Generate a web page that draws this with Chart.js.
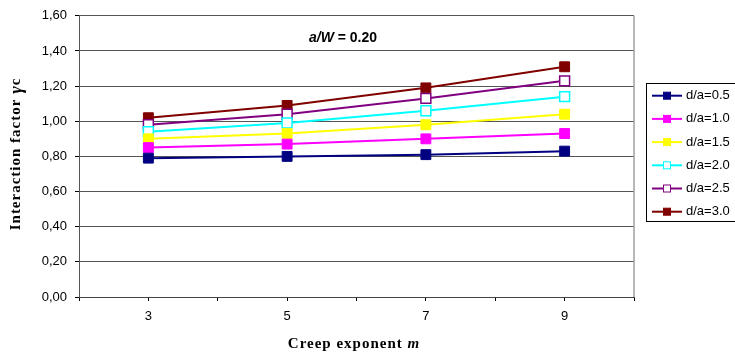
<!DOCTYPE html>
<html>
<head>
<meta charset="utf-8">
<script src="https://cdn.jsdelivr.net/npm/chart.js@4"></script>
<style>
  html, body { margin: 0; padding: 0; background: #fff; }
  #wrap { width: 735px; height: 358px; }
</style>
</head>
<body>
<div id="wrap"><canvas id="creepChart" width="735" height="358"></canvas></div>
<script>
// creep exponent m
const exponents = [3, 5, 7, 9];

// interaction factor per d/a ratio
const da05 = [0.79, 0.80, 0.81, 0.83];
const da10 = [0.85, 0.87, 0.90, 0.93];
const da15 = [0.90, 0.93, 0.98, 1.04];
const da20 = [0.94, 0.99, 1.06, 1.14];
const da25 = [0.98, 1.04, 1.13, 1.23];
const da30 = [1.02, 1.09, 1.19, 1.31];

const seriesLabels = ['d/a=0.5', 'd/a=1.0', 'd/a=1.5', 'd/a=2.0', 'd/a=2.5', 'd/a=3.0'];
const seriesValues = [da05, da10, da15, da20, da25, da30];
const seriesColors = ['#000080', '#ff00ff', '#ffff00', '#00ffff', '#800080', '#800000'];
const seriesHollow = [false, false, false, true, true, false];

const yTicks = [0, 0.2, 0.4, 0.6, 0.8, 1.0, 1.2, 1.4, 1.6];

const datasets = seriesValues.map((vals, i) => ({
    label: seriesLabels[i],
    data: vals.map((v, k) => ({ x: exponents[k], y: v })),
    borderColor: seriesColors[i],
    backgroundColor: seriesHollow[i] ? '#ffffff' : seriesColors[i],
    pointBorderColor: seriesColors[i],
    pointBackgroundColor: seriesHollow[i] ? '#ffffff' : seriesColors[i],
    pointBorderWidth: seriesHollow[i] ? 1.5 : 1,
    borderWidth: 2,
    pointStyle: 'rect',
    pointRadius: 7,
    pointHoverRadius: 7,
    tension: 0,
}));

// draws the axis titles, the a/W note, the right frame and the legend box
const decorations = {
    id: 'decorations',
    afterDraw(chart) {
        const ctx = chart.ctx;
        const area = chart.chartArea;
        ctx.save();

        // right edge of the plot frame
        ctx.strokeStyle = '#a0a0a0';
        ctx.lineWidth = 1.5;
        ctx.beginPath();
        ctx.moveTo(area.right, area.top);
        ctx.lineTo(area.right, area.bottom);
        ctx.stroke();

        ctx.fillStyle = '#000';
        ctx.textBaseline = 'middle';

        // a/W = 0.20
        const partA = 'a/W';
        const partB = ' = 0.20';
        ctx.font = 'italic bold 14px "Liberation Sans", Arial, sans-serif';
        const wA = ctx.measureText(partA).width;
        ctx.font = 'bold 14px "Liberation Sans", Arial, sans-serif';
        const wB = ctx.measureText(partB).width;
        let x0 = 343 - (wA + wB) / 2;
        ctx.textAlign = 'left';
        ctx.font = 'italic bold 14px "Liberation Sans", Arial, sans-serif';
        ctx.fillText(partA, x0, 38);
        ctx.font = 'bold 14px "Liberation Sans", Arial, sans-serif';
        ctx.fillText(partB, x0 + wA, 38);

        // x axis title
        ctx.letterSpacing = '1px';
        const xa = 'Creep exponent ';
        const xb = 'm';
        ctx.font = 'bold 15px "Liberation Serif", "Times New Roman", serif';
        const wxa = ctx.measureText(xa).width;
        ctx.font = 'italic bold 15px "Liberation Serif", "Times New Roman", serif';
        const wxb = ctx.measureText(xb).width;
        x0 = 354 - (wxa + wxb) / 2;
        ctx.font = 'bold 15px "Liberation Serif", "Times New Roman", serif';
        ctx.fillText(xa, x0, 344);
        ctx.font = 'italic bold 15px "Liberation Serif", "Times New Roman", serif';
        ctx.fillText(xb, x0 + wxa, 344);

        // y axis title, rotated
        const ya = 'Interaction factor ';
        const yb = 'γ';
        const yc = 'c';
        ctx.font = 'bold 15px "Liberation Serif", "Times New Roman", serif';
        const wya = ctx.measureText(ya).width;
        const wyc = ctx.measureText(yc).width;
        ctx.font = 'italic bold 18px "Liberation Serif", "Times New Roman", serif';
        const wyb = ctx.measureText(yb).width;
        ctx.translate(16, 154);
        ctx.rotate(-Math.PI / 2);
        x0 = -(wya + wyb + wyc) / 2;
        ctx.font = 'bold 15px "Liberation Serif", "Times New Roman", serif';
        ctx.fillText(ya, x0, 0);
        ctx.font = 'italic bold 18px "Liberation Serif", "Times New Roman", serif';
        ctx.fillText(yb, x0 + wya, 1);
        ctx.font = 'bold 15px "Liberation Serif", "Times New Roman", serif';
        ctx.fillText(yc, x0 + wya + wyb, 0);
        ctx.setTransform(1, 0, 0, 1, 0, 0);
        ctx.letterSpacing = '0px';

        // legend
        ctx.strokeStyle = '#000';
        ctx.lineWidth = 1;
        ctx.strokeRect(646.5, 83.5, 120, 138);
        ctx.font = '13px "Liberation Sans", Arial, sans-serif';
        chart.data.datasets.forEach((ds, i) => {
            const y = 95.7 + i * 23.2;
            ctx.strokeStyle = ds.borderColor;
            ctx.lineWidth = 2;
            ctx.beginPath();
            ctx.moveTo(652, y);
            ctx.lineTo(682, y);
            ctx.stroke();
            ctx.fillStyle = ds.pointBackgroundColor;
            ctx.fillRect(663.5, y - 3.5, 7, 7);
            ctx.strokeStyle = ds.pointBorderColor;
            ctx.lineWidth = 1;
            ctx.strokeRect(663.5, y - 3.5, 7, 7);
            ctx.fillStyle = '#000';
            ctx.textAlign = 'left';
            ctx.fillText(ds.label, 686, y);
        });

        ctx.restore();
    }
};

new Chart(document.getElementById('creepChart'), {
    type: 'line',
    data: { datasets },
    options: {
        responsive: false,
        animation: false,
        events: [],
        layout: { padding: { top: 11, right: 101, left: 0, bottom: 0 } },
        plugins: {
            legend: { display: false },
            tooltip: { enabled: false },
        },
        scales: {
            x: {
                type: 'linear',
                min: 2,
                max: 10,
                afterFit: (s) => { s.height = 61; },
                afterBuildTicks: (s) => {
                    s.ticks = [2, 3, 4, 5, 6, 7, 8, 9, 10].map((v) => ({ value: v }));
                },
                ticks: {
                    autoSkip: false,
                    maxRotation: 0,
                    padding: 8,
                    color: '#000',
                    font: { family: '"Liberation Sans", Arial, sans-serif', size: 13 },
                    callback: (v) => (exponents.includes(v) ? String(v) : ''),
                },
                grid: { drawOnChartArea: false, drawTicks: true, tickLength: 4, color: '#000' },
                border: { color: '#444', width: 1 },
            },
            y: {
                min: 0,
                max: 1.6,
                afterFit: (s) => { s.width = 79; },
                afterBuildTicks: (s) => {
                    s.ticks = yTicks.map((v) => ({ value: v }));
                },
                ticks: {
                    padding: 8,
                    color: '#000',
                    font: { family: '"Liberation Sans", Arial, sans-serif', size: 13 },
                    callback: (v) => v.toFixed(2).replace('.', ','),
                },
                grid: { color: '#555', tickLength: 4, tickColor: '#000' },
                border: { color: '#555', width: 1 },
            },
        },
    },
    plugins: [decorations],
});
</script>
</body>
</html>
